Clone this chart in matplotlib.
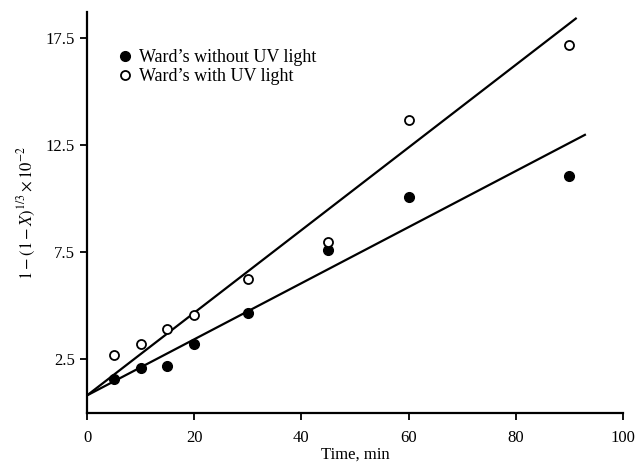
import matplotlib
matplotlib.use('Agg')
import matplotlib.pyplot as plt
import numpy as np

plt.rcParams['font.family'] = 'Liberation Serif'
plt.rcParams['mathtext.fontset'] = 'stix'

time_min = [5, 10, 15, 20, 30, 45, 60, 90]
without_uv = [1.57, 2.08, 2.2, 3.2, 4.65, 7.6, 10.07, 11.05]
with_uv = [2.7, 3.2, 3.9, 4.56, 6.24, 7.97, 13.67, 17.17]

# fitted lines: intercept, slope, last x drawn
fit_without = (0.82, 0.1308, 92.9)
fit_with = (0.82, 0.1927, 91.2)

fig = plt.figure(figsize=(6.38, 4.69), dpi=100)
ax = fig.add_axes([0.1364, 0.1194, 0.84, 0.855])

for b, m, xe in [fit_with, fit_without]:
    xs = np.array([0, xe])
    ax.plot(xs, b + m * xs, color='black', lw=1.6)

ax.plot(time_min, without_uv, 'o', color='black', ms=7, ls='none',
        label="Ward\u2019s without UV light")
ax.plot(time_min, with_uv, 'o', mfc='white', mec='black', mew=1.3, ms=6.5,
        ls='none', label="Ward\u2019s with UV light")

ax.set_xlim(0, 100)
ax.set_ylim(0, 18.7)
ax.set_xticks([0, 20, 40, 60, 80, 100])
ax.set_yticks([2.5, 7.5, 12.5, 17.5])
ax.set_yticklabels(['2.5', '7.5', '12.5', '17.5'])

for s in ['top', 'right']:
    ax.spines[s].set_visible(False)
for s in ['left', 'bottom']:
    ax.spines[s].set_linewidth(1.6)
ax.tick_params(direction='out', length=5, width=1.3, labelsize=12)
ax.tick_params(axis='x', pad=7)

ax.set_xlabel('Time, min', fontsize=12, labelpad=1)
ax.set_ylabel(r'$1-(1-X)^{1/3}\times10^{-2}$', fontsize=12, labelpad=6)

ax.legend(loc='upper left', bbox_to_anchor=(0.04, 0.925), frameon=False,
          fontsize=13, handletextpad=0.3, labelspacing=0.1,
          borderaxespad=0, handlelength=1)

fig.savefig('out.png', dpi=100)
